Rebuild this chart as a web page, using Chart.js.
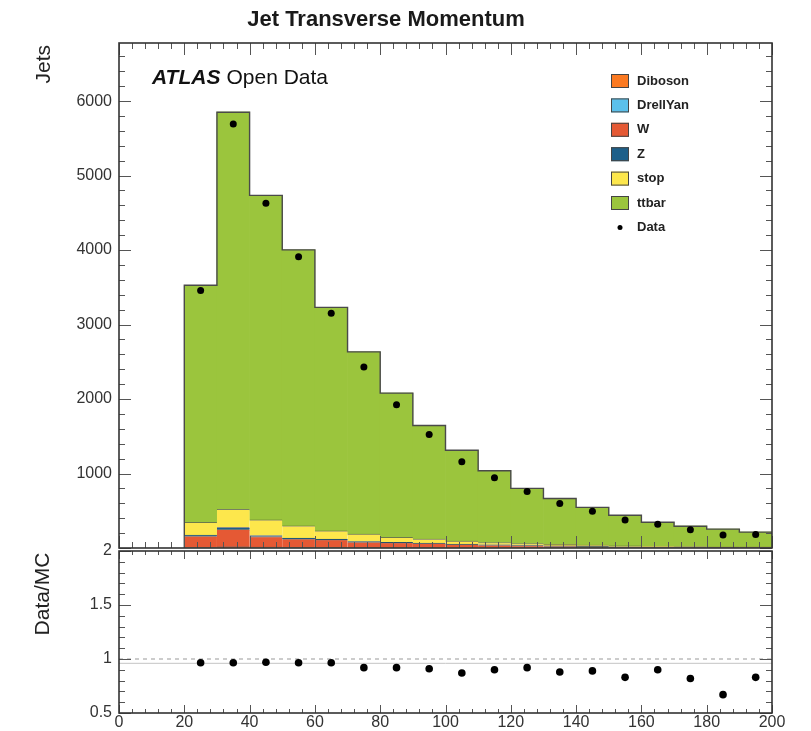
<!DOCTYPE html>
<html>
<head>
<meta charset="utf-8">
<title>Jet Transverse Momentum</title>
<script src="https://cdn.jsdelivr.net/npm/chart.js@4.4.1/dist/chart.umd.min.js"></script>
<style>
  body { margin: 0; background: #fff; }
  #wrap { position: relative; width: 811px; height: 731px; }
  #mainChart { position: absolute; left: 0; top: 0; }
  #ratioChart { position: absolute; left: 0; top: 530px; }
</style>
</head>
<body>
<div id="wrap">
  <canvas id="mainChart" width="811" height="552"></canvas>
  <canvas id="ratioChart" width="811" height="201"></canvas>
</div>
<script>
// bins (low edges, GeV) and bin width
const binLow = [20, 30, 40, 50, 60, 70, 80, 90, 100, 110, 120, 130, 140, 150, 160, 170, 180, 190];
const binWidth = 10;

// MC samples, stacked from the bottom
const diboson  = [6, 9, 7, 6, 5, 4, 3, 3, 2, 2, 2, 1, 1, 1, 1, 1, 1, 1];
const drellYan = [4, 6, 4, 3, 2, 2, 1, 1, 1, 1, 1, 1, 0, 0, 0, 0, 0, 0];
const wJets    = [150, 235, 143, 115, 105, 75, 68, 58, 45, 36, 30, 24, 19, 15, 12, 10, 8, 7];
const zJets    = [14, 28, 14, 10, 8, 6, 5, 4, 3, 3, 2, 2, 2, 1, 1, 1, 1, 1];
const singleTop = [170, 242, 210, 165, 110, 100, 65, 55, 42, 32, 25, 20, 16, 13, 10, 8, 7, 6];
const ttbar    = [3184, 5331, 4356, 3704, 3001, 2446, 1937, 1524, 1219, 963, 740, 617, 507, 409, 322, 273, 236, 198];

// observed data and data/MC ratio
const dataCounts = [3457, 5691, 4628, 3910, 3152, 2430, 1924, 1525, 1157, 944, 758, 598, 492, 375, 318, 245, 175, 180];
const ratioVals  = [0.965, 0.965, 0.97, 0.965, 0.965, 0.92, 0.92, 0.91, 0.87, 0.90, 0.92, 0.88, 0.89, 0.83, 0.90, 0.82, 0.67, 0.83];

// axis ticks
const xTicks = [0, 20, 40, 60, 80, 100, 120, 140, 160, 180, 200];
const yTicksMain = [1000, 2000, 3000, 4000, 5000, 6000];
const yTicksRatio = [0.5, 1, 1.5, 2];

const samples = [
  { label: 'Diboson',  data: diboson,   color: '#FA7921' },
  { label: 'DrellYan', data: drellYan,  color: '#5BC0EB' },
  { label: 'W',        data: wJets,     color: '#E55934' },
  { label: 'Z',        data: zJets,     color: '#1D5F89' },
  { label: 'stop',     data: singleTop, color: '#FDE74C' },
  { label: 'ttbar',    data: ttbar,     color: '#9BC53D' }
];

Chart.defaults.font.family = '"Liberation Sans", Arial, Helvetica, sans-serif';
Chart.defaults.color = '#333';

const centers = binLow.map(e => e + binWidth / 2);
const toXY = arr => arr.map((v, i) => ({ x: centers[i], y: v }));

// histogram outline of the full stack
const totalMC = binLow.map((_, i) => samples.reduce((s, smp) => s + smp.data[i], 0));
const outline = [{ x: binLow[0], y: 0 }];
binLow.forEach((e, i) => {
  outline.push({ x: e, y: totalMC[i] });
  outline.push({ x: e + binWidth, y: totalMC[i] });
});

// ROOT-like frame with ticks inside on all four sides
const hepFrame = {
  id: 'hepFrame',
  afterDatasetsDraw(chart, args, o) {
    const { ctx, chartArea: a } = chart;
    const xs = chart.scales.x, ys = chart.scales.y;
    ctx.save();
    ctx.strokeStyle = '#555';
    ctx.lineWidth = 1;
    ctx.beginPath();
    for (let v = xs.min; v <= xs.max + 1e-9; v += o.xMinor) {
      const px = Math.round(xs.getPixelForValue(v)) + 0.5;
      const major = Math.abs(v / o.xMajor - Math.round(v / o.xMajor)) < 1e-6;
      const len = major ? o.xMajorLen : o.xMinorLen;
      ctx.moveTo(px, a.bottom); ctx.lineTo(px, a.bottom - len);
      ctx.moveTo(px, a.top); ctx.lineTo(px, a.top + len);
    }
    for (let v = o.yStart; v <= ys.max + 1e-9; v += o.yMinor) {
      if (v < ys.min - 1e-9) continue;
      const py = Math.round(ys.getPixelForValue(v)) + 0.5;
      const major = Math.abs(v / o.yMajor - Math.round(v / o.yMajor)) < 1e-6;
      const len = major ? o.yMajorLen : o.yMinorLen;
      ctx.moveTo(a.left, py); ctx.lineTo(a.left + len, py);
      ctx.moveTo(a.right, py); ctx.lineTo(a.right - len, py);
    }
    ctx.stroke();
    ctx.strokeStyle = '#333';
    ctx.lineWidth = 1.6;
    ctx.strokeRect(a.left, a.top, a.right - a.left, a.bottom - a.top);
    ctx.restore();
  }
};

// labels, legend and axis title of the upper pad
const mainDecor = {
  id: 'mainDecor',
  afterDraw(chart) {
    const ctx = chart.ctx;
    ctx.save();
    ctx.fillStyle = '#111';
    ctx.textBaseline = 'middle';
    ctx.font = 'italic bold 21px "Liberation Sans", Arial, sans-serif';
    ctx.fillText('ATLAS', 152, 78);
    const w = ctx.measureText('ATLAS').width;
    ctx.font = '21px "Liberation Sans", Arial, sans-serif';
    ctx.fillText('Open Data', 152 + w + 6, 78);

    // y title
    ctx.save();
    ctx.translate(44, 45);
    ctx.rotate(-Math.PI / 2);
    ctx.textAlign = 'right';
    ctx.font = '21px "Liberation Sans", Arial, sans-serif';
    ctx.fillStyle = '#222';
    ctx.fillText('Jets', 0, 0);
    ctx.restore();

    // legend
    const x0 = 611, y0 = 81, dy = 24.4;
    ctx.font = 'bold 13px "Liberation Sans", Arial, sans-serif';
    samples.forEach((s, i) => {
      const cy = y0 + i * dy;
      ctx.fillStyle = s.color;
      ctx.fillRect(x0, cy - 7, 18, 14);
      ctx.strokeStyle = '#444';
      ctx.lineWidth = 1;
      ctx.strokeRect(x0 + 0.5, cy - 6.5, 17, 13);
      ctx.fillStyle = '#222';
      ctx.fillText(s.label, 637, cy);
    });
    const cy = y0 + samples.length * dy;
    ctx.fillStyle = '#000';
    ctx.beginPath();
    ctx.arc(x0 + 9, cy, 2.5, 0, Math.PI * 2);
    ctx.fill();
    ctx.fillStyle = '#222';
    ctx.fillText('Data', 637, cy);
    ctx.restore();
  }
};

const ratioDecor = {
  id: 'ratioDecor',
  afterDraw(chart) {
    const ctx = chart.ctx;
    ctx.save();
    ctx.translate(43.5, 64);
    ctx.rotate(-Math.PI / 2);
    ctx.textAlign = 'center';
    ctx.textBaseline = 'middle';
    ctx.font = '21px "Liberation Sans", Arial, sans-serif';
    ctx.fillStyle = '#222';
    ctx.fillText('Data/MC', 0, 0);
    ctx.restore();
  }
};

// fixed axis width, no extra label padding above/below the pad
const fixY = s => { s.width = 119; s.paddingTop = 0; s.paddingBottom = 0; };

const mcDatasets = samples.map(s => ({
  type: 'bar',
  label: s.label,
  data: toXY(s.data),
  backgroundColor: s.color,
  borderColor: 'rgba(50,50,50,0.55)',
  borderWidth: s.label === 'ttbar' ? 0 : { top: 1, left: 0, right: 0, bottom: 0 },
  borderSkipped: false,
  barPercentage: 1,
  categoryPercentage: 1,
  stack: 'mc',
  order: 1
}));

new Chart(document.getElementById('mainChart'), {
  type: 'bar',
  data: {
    datasets: [
      ...mcDatasets,
      {
        type: 'line', label: 'outline', data: outline, stack: 'outline', order: 0,
        borderColor: '#4a4a4a', borderWidth: 1.4, pointRadius: 0, tension: 0, fill: false
      },
      {
        type: 'line', label: 'Data', data: toXY(dataCounts), stack: 'data', order: -1,
        showLine: false, pointRadius: 3.5, pointBackgroundColor: '#000', pointBorderWidth: 0
      }
    ]
  },
  options: {
    responsive: false,
    animation: false,
    layout: { padding: { left: 0, right: 39, top: 0, bottom: 3 } },
    scales: {
      x: { type: 'linear', min: 0, max: 200, offset: false, display: false },
      y: {
        min: 0, max: 6780, stacked: true,
        grid: { display: false, drawTicks: false },
        border: { display: false },
        ticks: { font: { size: 16 }, color: '#333', padding: 7, callback: v => String(v) },
        afterBuildTicks: s => { s.ticks = yTicksMain.map(v => ({ value: v })); },
        afterFit: fixY
      }
    },
    plugins: {
      legend: { display: false },
      tooltip: { enabled: false },
      title: {
        display: true,
        text: 'Jet Transverse Momentum',
        color: '#1a1a1a',
        font: { size: 22, weight: 'bold' },
        padding: { top: 7, bottom: 9.6 }
      },
      hepFrame: { xMinor: 4, xMajor: 20, xMajorLen: 12, xMinorLen: 6, yStart: 0, yMinor: 200, yMajor: 1000, yMajorLen: 12, yMinorLen: 6 }
    }
  },
  plugins: [hepFrame, mainDecor]
});

new Chart(document.getElementById('ratioChart'), {
  type: 'line',
  data: {
    datasets: [
      {
        label: 'unity', data: [{ x: 0, y: 1 }, { x: 200, y: 1 }], order: 2,
        borderColor: '#9a9a9a', borderWidth: 1, borderDash: [4, 4], pointRadius: 0
      },
      {
        label: 'band', data: [{ x: 0, y: 0.96 }, { x: 200, y: 0.96 }], order: 1,
        borderColor: '#c4c4c4', borderWidth: 1, pointRadius: 0
      },
      {
        label: 'Data/MC', data: toXY(ratioVals), order: 0,
        showLine: false, pointRadius: 3.8, pointBackgroundColor: '#000', pointBorderWidth: 0
      }
    ]
  },
  options: {
    responsive: false,
    animation: false,
    layout: { padding: { left: 0, right: 39, top: 21, bottom: 0 } },
    scales: {
      x: {
        type: 'linear', min: 0, max: 200, offset: false,
        grid: { display: false, drawTicks: false },
        border: { display: false },
        ticks: { font: { size: 16 }, color: '#333', padding: 0, maxRotation: 0, autoSkip: false },
        afterBuildTicks: s => { s.ticks = xTicks.map(v => ({ value: v })); },
        afterFit: s => { s.height = 18; }
      },
      y: {
        min: 0.5, max: 2,
        grid: { display: false, drawTicks: false },
        border: { display: false },
        ticks: { font: { size: 16 }, color: '#333', padding: 7, callback: v => String(v) },
        afterBuildTicks: s => { s.ticks = yTicksRatio.map(v => ({ value: v })); },
        afterFit: fixY
      }
    },
    plugins: {
      legend: { display: false },
      tooltip: { enabled: false },
      hepFrame: { xMinor: 4, xMajor: 20, xMajorLen: 8, xMinorLen: 4, yStart: 0.5, yMinor: 0.1, yMajor: 0.5, yMajorLen: 12, yMinorLen: 6 }
    }
  },
  plugins: [hepFrame, ratioDecor]
});
</script>
</body>
</html>
